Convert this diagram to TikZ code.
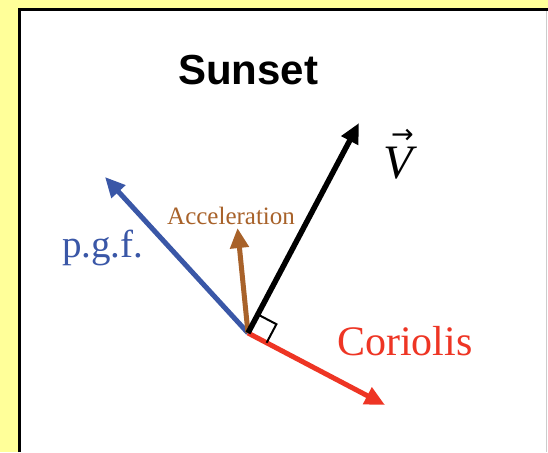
\documentclass[tikz,border=0pt]{standalone}
\usepackage{fontspec}
\setmainfont{Liberation Serif}
\newfontfamily\headfont{Liberation Sans}
\newfontfamily\symfont{DejaVu Sans}
\usetikzlibrary{arrows.meta,calc}
\definecolor{bgyellow}{RGB}{255,255,153}
\definecolor{pgfblue}{RGB}{58,87,167}
\definecolor{accbrown}{RGB}{168,98,42}
\definecolor{corred}{RGB}{238,53,36}
\tikzset{
  vec/.style={line width=5pt, -{Triangle[length=20pt,width=18pt]}},
  lbl/.style={inner sep=0pt, anchor=base west},
}
\begin{document}
\begin{tikzpicture}[x=1pt,y=-1pt]
\useasboundingbox (0,0) rectangle (548,452);
\fill[bgyellow] (0,0) rectangle (548,452);
\fill[white] (19,9) rectangle (548,452);
\draw[line width=3pt] (19.3,452) -- (19.3,9.2) -- (548,9.2);
\draw[gray!40, line width=1pt] (546.5,11) -- (546.5,452);
% labels
\node[lbl] (title) at (178,84) {\headfont\bfseries\fontsize{42}{50}\selectfont Sunset};
\node[lbl, text=pgfblue] (pgf) at (62,257) {\fontsize{39}{46}\selectfont p.g.f.};
\node[lbl, text=accbrown] (acc) at (167,224) {\fontsize{25}{30}\selectfont Acceleration};
\node[lbl, text=corred] (cor) at (337,355) {\fontsize{42}{50}\selectfont Coriolis};
\node[lbl] (vel) at (383,178) {\fontsize{48}{56}\selectfont\makebox[0pt][l]{\hspace{8pt}\raisebox{35pt}{\symfont\fontsize{27}{27}\selectfont →}}\itshape V};
% vectors
\coordinate (O) at (248,333);
\coordinate (Vt) at (359,123);
\coordinate (Pt) at (105,177);
\coordinate (At) at (237.5,228);
\coordinate (Ct) at (385,405);
\draw[vec, pgfblue] (O) -- (Pt);
\draw[vec, accbrown] (O) -- (At);
\draw[vec, corred] (O) -- (Ct);
\draw[vec, black, line width=5.5pt] (O) -- (Vt);
% right-angle mark
\coordinate (Ra) at ($(O)!21pt!(Vt)$);
\coordinate (Rc) at ($(O)!21pt!(Ct)$);
\coordinate (Rb) at ($(Ra)+(Rc)-(O)$);
\draw[line width=2pt] (Ra) -- (Rb) -- (Rc);
\end{tikzpicture}
\end{document}
